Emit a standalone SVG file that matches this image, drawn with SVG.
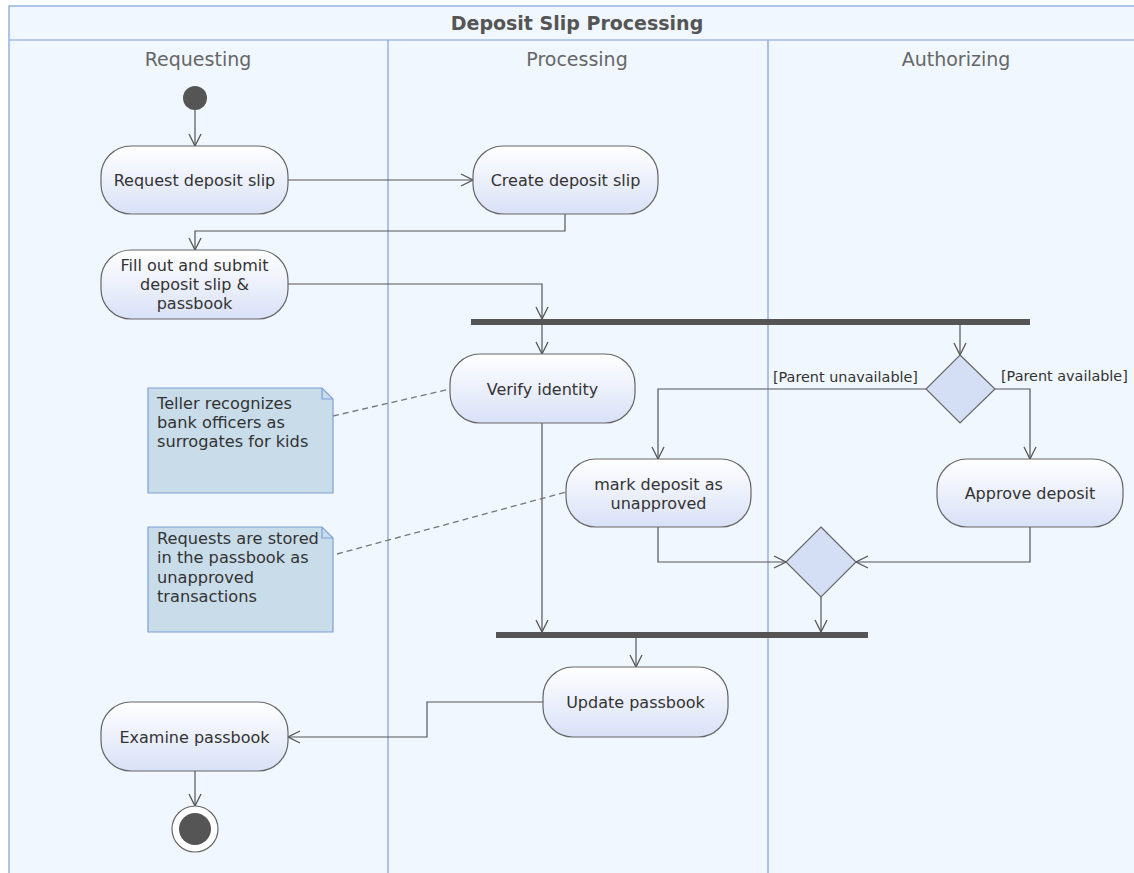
<svg xmlns="http://www.w3.org/2000/svg" width="1134" height="873" viewBox="0 0 1134 873">
  <defs>
    <linearGradient id="actFill" x1="0" y1="0" x2="0" y2="1">
      <stop offset="0" stop-color="#ffffff"/>
      <stop offset="1" stop-color="#d9e1f7"/>
    </linearGradient>
    <marker id="open" viewBox="0 0 14 14" refX="13" refY="7" markerWidth="14" markerHeight="14" markerUnits="userSpaceOnUse" orient="auto">
      <path d="M1,1 L13,7 L1,13" fill="none" stroke="#555" stroke-width="1.3"/>
    </marker>
  </defs>
  <style>
    .frame { fill: #f0f7fe; stroke: #7f9fda; stroke-width: 1.2; }
    .lane { stroke: #7f9fda; stroke-width: 1.2; }
    .title { font-family: "DejaVu Sans", Verdana, sans-serif; font-size: 19px; font-weight: bold; fill: #555; text-anchor: middle; }
    .lanehead { font-family: "DejaVu Sans", Verdana, sans-serif; font-size: 19px; fill: #666; text-anchor: middle; }
    .act { fill: url(#actFill); stroke: #666; stroke-width: 1.2; }
    .lbl { font-family: "DejaVu Sans", Verdana, sans-serif; font-size: 16px; fill: #333; text-anchor: middle; }
    .guard { font-family: "DejaVu Sans", Verdana, sans-serif; font-size: 14.4px; fill: #333; }
    .note { fill: #c8dcea; stroke: #7fa0d8; stroke-width: 1.2; }
    .notetxt { font-family: "DejaVu Sans", Verdana, sans-serif; font-size: 16.2px; fill: #333; }
    .bar { fill: #555; }
    .dia { fill: #d4dff5; stroke: #666; stroke-width: 1.2; }
    .flow { fill: none; stroke: #555; stroke-width: 1.2; marker-end: url(#open); }
    .anchor { fill: none; stroke: #777; stroke-width: 1.3; stroke-dasharray: 6 4; }
  </style>

  <!-- swimlane frame -->
  <g id="frame">
    <rect class="frame" x="9" y="6" width="1130" height="872"/>
    <line class="lane" x1="9" y1="40" x2="1134" y2="40"/>
    <line class="lane" x1="388" y1="40" x2="388" y2="873"/>
    <line class="lane" x1="768" y1="40" x2="768" y2="873"/>
    <text class="title" x="577" y="30">Deposit Slip Processing</text>
    <text class="lanehead" x="198" y="66">Requesting</text>
    <text class="lanehead" x="577" y="66">Processing</text>
    <text class="lanehead" x="956" y="66">Authorizing</text>
  </g>

  <!-- connectors -->
  <g id="connectors">
    <path class="flow" d="M195,110 V146"/>
    <path class="flow" d="M288,180 H473"/>
    <path class="flow" d="M565,214 V231 H195 V250"/>
    <path class="flow" d="M288,284 H542 V319"/>
    <path class="flow" d="M542,325 V354"/>
    <path class="flow" d="M960,325 V355"/>
    <path class="flow" d="M926,389 H658 V459"/>
    <path class="flow" d="M995,389 H1030 V459"/>
    <path class="flow" d="M542,423 V632"/>
    <path class="flow" d="M658,527 V562 H786"/>
    <path class="flow" d="M1030,527 V562 H856"/>
    <path class="flow" d="M821,597 V632"/>
    <path class="flow" d="M636,638 V667"/>
    <path class="flow" d="M543,702 H427 V737 H288"/>
    <path class="flow" d="M195,771 V806"/>
    <path class="anchor" d="M333,416 L450,389"/>
    <path class="anchor" d="M337,554 L566,492"/>
    <text class="guard" x="918" y="382" text-anchor="end">[Parent unavailable]</text>
    <text class="guard" x="1001" y="381">[Parent available]</text>
  </g>

  <g id="start">
    <circle cx="195" cy="98" r="12" fill="#555"/>
  </g>

  <g id="request-slip">
    <rect class="act" x="101" y="146" width="187" height="68" rx="30"/>
    <text class="lbl" x="194.5" y="186">Request deposit slip</text>
  </g>

  <g id="create-slip">
    <rect class="act" x="473" y="146" width="185" height="68" rx="30"/>
    <text class="lbl" x="565.5" y="186">Create deposit slip</text>
  </g>

  <g id="fill-out">
    <rect class="act" x="101" y="250" width="187" height="69" rx="30"/>
    <text class="lbl" x="194.5" y="271">Fill out and submit</text>
    <text class="lbl" x="194.5" y="290">deposit slip &amp;</text>
    <text class="lbl" x="194.5" y="309">passbook</text>
  </g>

  <g id="fork">
    <rect class="bar" x="471" y="319" width="559" height="6"/>
  </g>

  <g id="verify-identity">
    <rect class="act" x="450" y="354" width="185" height="69" rx="30"/>
    <text class="lbl" x="542.5" y="395">Verify identity</text>
  </g>

  <g id="parent-decision">
    <polygon class="dia" points="960,355 995,389 960,423 926,389"/>
  </g>

  <g id="mark-unapproved">
    <rect class="act" x="566" y="459" width="185" height="68" rx="30"/>
    <text class="lbl" x="658.5" y="490">mark deposit as</text>
    <text class="lbl" x="658.5" y="509">unapproved</text>
  </g>

  <g id="approve-deposit">
    <rect class="act" x="937" y="459" width="186" height="68" rx="30"/>
    <text class="lbl" x="1030" y="499">Approve deposit</text>
  </g>

  <g id="merge">
    <polygon class="dia" points="821,527 856,562 821,597 786,562"/>
  </g>

  <g id="join">
    <rect class="bar" x="496" y="632" width="372" height="6"/>
  </g>

  <g id="update-passbook">
    <rect class="act" x="543" y="667" width="185" height="70" rx="30"/>
    <text class="lbl" x="635.5" y="708">Update passbook</text>
  </g>

  <g id="examine-passbook">
    <rect class="act" x="101" y="702" width="187" height="69" rx="30"/>
    <text class="lbl" x="194.5" y="743">Examine passbook</text>
  </g>

  <g id="end">
    <circle cx="195" cy="829" r="23" fill="#fff" stroke="#666" stroke-width="1.2"/>
    <circle cx="195" cy="829" r="16" fill="#555"/>
  </g>

  <g id="note-teller">
    <path class="note" d="M148,388 H322 L333,399 V493 H148 Z"/>
    <path d="M322,388 V399 H333" fill="none" stroke="#7fa0d8" stroke-width="1.2"/>
    <text class="notetxt" x="157" y="409">Teller recognizes</text>
    <text class="notetxt" x="157" y="428">bank officers as</text>
    <text class="notetxt" x="157" y="447">surrogates for kids</text>
  </g>

  <g id="note-requests">
    <path class="note" d="M148,527 H322 L333,538 V632 H148 Z"/>
    <path d="M322,527 V538 H333" fill="none" stroke="#7fa0d8" stroke-width="1.2"/>
    <text class="notetxt" x="157" y="544">Requests are stored</text>
    <text class="notetxt" x="157" y="563">in the passbook as</text>
    <text class="notetxt" x="157" y="583">unapproved</text>
    <text class="notetxt" x="157" y="602">transactions</text>
  </g>
</svg>
